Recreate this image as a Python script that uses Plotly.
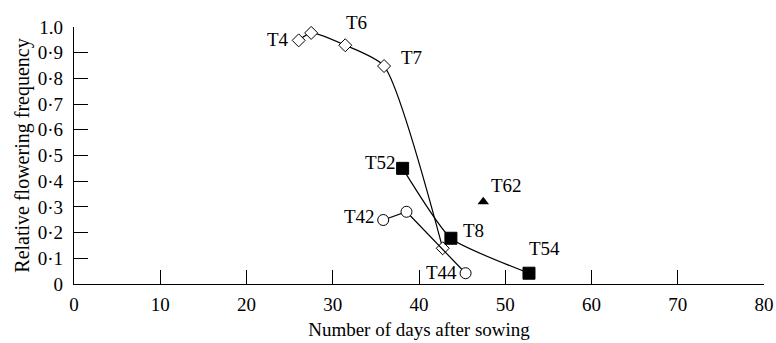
import plotly.graph_objects as go

# Diamonds series (T4 ... T7 ... )
dia_x = [26.05, 27.5, 31.45, 35.95, 42.75]
dia_y = [0.948, 0.977, 0.929, 0.848, 0.139]

# Filled squares (T52, T8, T54)
sq_x = [38.1, 43.7, 52.75]
sq_y = [0.45, 0.178, 0.042]

# Open circles (T42, ..., T44)
ci_x = [35.85, 38.55, 45.4]
ci_y = [0.249, 0.281, 0.042]

# Triangle (T62)
tri_x = [47.45]
tri_y = [0.32]

# Point labels
lab_text = ["T4", "T6", "T7", "T52", "T62", "T42", "T8", "T54", "T44"]
lab_x = [23.7, 32.8, 39.15, 35.5, 50.15, 33.15, 46.3, 54.6, 42.65]
lab_y = [0.951, 1.019, 0.881, 0.471, 0.385, 0.262, 0.21, 0.139, 0.044]

x_ticks = [0, 10, 20, 30, 40, 50, 60, 70, 80]
y_ticks = [0, 0.1, 0.2, 0.3, 0.4, 0.5, 0.6, 0.7, 0.8, 0.9, 1.0]
y_ticktext = ["0", "0·1", "0·2", "0·3", "0·4", "0·5", "0·6", "0·7", "0·8", "0·9", "1.0"]

FONT = "Liberation Serif, Times New Roman, serif"

fig = go.Figure()
fig.add_trace(go.Scatter(
    x=dia_x, y=dia_y, mode="lines+markers",
    line=dict(color="black", width=1.2, shape="spline", smoothing=0.6),
    marker=dict(symbol="diamond", size=10, color="white", line=dict(color="black", width=1)),
    cliponaxis=False, showlegend=False))
fig.add_trace(go.Scatter(
    x=sq_x, y=sq_y, mode="lines+markers",
    line=dict(color="black", width=1.2, shape="spline", smoothing=0.5),
    marker=dict(symbol="square", size=12, color="black", line=dict(color="black", width=1)),
    cliponaxis=False, showlegend=False))
fig.add_trace(go.Scatter(
    x=ci_x, y=ci_y, mode="lines+markers",
    line=dict(color="black", width=1.2),
    marker=dict(symbol="circle", size=11, color="white", line=dict(color="black", width=1)),
    cliponaxis=False, showlegend=False))
fig.add_trace(go.Scatter(
    x=tri_x, y=tri_y, mode="markers",
    marker=dict(symbol="triangle-up", size=10, color="black"),
    cliponaxis=False, showlegend=False))

# y axis range is [0, 1], so paper y equals data y; paper ref keeps labels above 1.0 visible
for t, x, y in zip(lab_text, lab_x, lab_y):
    fig.add_annotation(x=x, y=y, text=t, showarrow=False, xref="x", yref="paper",
                       xanchor="center", yanchor="middle",
                       font=dict(family=FONT, size=19, color="black"))

fig.update_layout(
    width=776, height=343,
    margin=dict(l=74, r=12, t=27, b=59, autoexpand=False),
    paper_bgcolor="white", plot_bgcolor="white",
    font=dict(family=FONT, size=19, color="black"),
    xaxis=dict(range=[0, 80], tickvals=x_ticks, ticks="inside", ticklen=14,
               tickcolor="black", tickwidth=1, showline=True, linecolor="black",
               linewidth=1.2, showgrid=False, zeroline=False, automargin=False,
               ticklabelstandoff=3,
               tickfont=dict(family=FONT, size=19),
               title=dict(text="Number of days after sowing", standoff=8,
                          font=dict(family=FONT, size=19))),
    yaxis=dict(range=[0, 1.0], tickvals=y_ticks, ticktext=y_ticktext, ticks="inside",
               ticklen=14, tickcolor="black", tickwidth=1, showline=True,
               linecolor="black", linewidth=1.2, showgrid=False, zeroline=False,
               automargin=False, ticklabelstandoff=6,
               tickfont=dict(family=FONT, size=19),
               title=dict(text="Relative flowering frequency", standoff=2,
                          font=dict(family=FONT, size=20))),
)

fig.write_html("out.html")
